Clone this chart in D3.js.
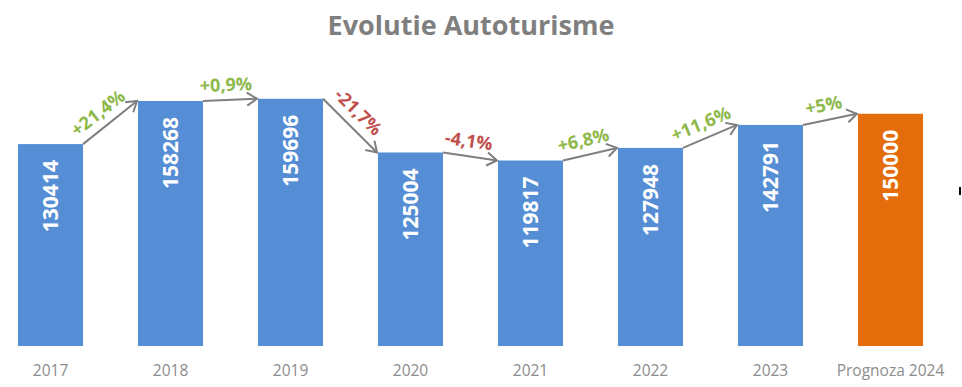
<!DOCTYPE html>
<html>
<head>
<meta charset="utf-8">
<script src="https://cdn.jsdelivr.net/npm/d3@7"></script>
<style>
  body { margin: 0; background: #fff; }
  svg { display: block; font-family: "Open Sans", sans-serif; }
</style>
</head>
<body>
<svg width="962" height="387"></svg>
<script>
// date grafic
var years = ["2017", "2018", "2019", "2020", "2021", "2022", "2023", "Prognoza 2024"];
var values = [130414, 158268, 159696, 125004, 119817, 127948, 142791, 150000];
var changes = ["+21,4%", "+0,9%", "-21,7%", "-4,1%", "+6,8%", "+11,6%", "+5%"];

var svg = d3.select("svg");

var x = d3.scaleBand()
  .domain(years)
  .range([18, 923])
  .paddingInner(0.458)
  .paddingOuter(0);

var y = d3.scaleLinear()
  .domain([0, 160000])
  .range([346, 98.3]);

// titlu
svg.append("text")
  .attr("x", 471)
  .attr("y", 35)
  .attr("text-anchor", "middle")
  .attr("font-size", 27)
  .attr("font-weight", "bold")
  .attr("fill", "#7f7f7f")
  .text("Evolutie Autoturisme");

// bare
svg.selectAll("rect.bar")
  .data(values)
  .enter().append("rect")
  .attr("class", "bar")
  .attr("x", function(d, i) { return x(years[i]); })
  .attr("y", function(d) { return y(d); })
  .attr("width", x.bandwidth())
  .attr("height", function(d) { return y(0) - y(d); })
  .attr("fill", function(d, i) { return i == years.length - 1 ? "#e46c0a" : "#558ed5"; });

// valori in bare
svg.selectAll("text.val")
  .data(values)
  .enter().append("text")
  .attr("class", "val")
  .attr("transform", function(d, i) {
    var cx = x(years[i]) + x.bandwidth() / 2;
    return "translate(" + (cx + 7.5) + "," + (y(d) + 16) + ") rotate(-90)";
  })
  .attr("text-anchor", "end")
  .attr("font-size", 21)
  .attr("font-weight", "bold")
  .attr("fill", "#fff")
  .text(function(d) { return d; });

// axa x
var xAxis = svg.append("g")
  .attr("transform", "translate(0,346)")
  .call(d3.axisBottom(x).tickSize(0).tickPadding(19));
xAxis.select(".domain").remove();
xAxis.selectAll("text")
  .attr("font-family", "Open Sans, sans-serif")
  .attr("font-size", 15.5)
  .attr("fill", "#8c8c8c");

// sageti
var defs = svg.append("defs");
defs.append("marker")
  .attr("id", "arr")
  .attr("viewBox", "-12 -8 14 16")
  .attr("markerWidth", 14)
  .attr("markerHeight", 16)
  .attr("markerUnits", "userSpaceOnUse")
  .attr("orient", "auto")
  .append("path")
  .attr("d", "M-10,-6.5 L0,0 L-10,6.5")
  .attr("fill", "none")
  .attr("stroke", "#7f7f7f")
  .attr("stroke-width", 2);

var links = changes.map(function(c, i) {
  return {
    x1: x(years[i]) + x.bandwidth(), y1: y(values[i]),
    x2: x(years[i + 1]), y2: y(values[i + 1]),
    label: c
  };
});

svg.selectAll("line.arrow")
  .data(links)
  .enter().append("line")
  .attr("class", "arrow")
  .attr("x1", function(d) { return d.x1; })
  .attr("y1", function(d) { return d.y1; })
  .attr("x2", function(d) { return d.x2 - 1; })
  .attr("y2", function(d) { return d.y2; })
  .attr("stroke", "#7f7f7f")
  .attr("stroke-width", 2)
  .attr("marker-end", "url(#arr)");

svg.selectAll("text.pct")
  .data(links)
  .enter().append("text")
  .attr("class", "pct")
  .attr("transform", function(d) {
    var mx = (d.x1 + d.x2) / 2, my = (d.y1 + d.y2) / 2;
    var ang = Math.atan2(d.y2 - d.y1, d.x2 - d.x1) * 180 / Math.PI;
    return "translate(" + mx + "," + my + ") rotate(" + ang + ")";
  })
  .attr("x", -4)
  .attr("y", -9)
  .attr("text-anchor", "middle")
  .attr("font-size", 18)
  .attr("font-weight", "bold")
  .attr("fill", function(d) { return d.label[0] == "-" ? "#c0504d" : "#8db84a"; })
  .text(function(d) { return d.label; });

// semn mic din dreapta
svg.append("line")
  .attr("x1", 960).attr("x2", 960)
  .attr("y1", 187).attr("y2", 195)
  .attr("stroke", "#000")
  .attr("stroke-width", 2);
</script>
</body>
</html>
